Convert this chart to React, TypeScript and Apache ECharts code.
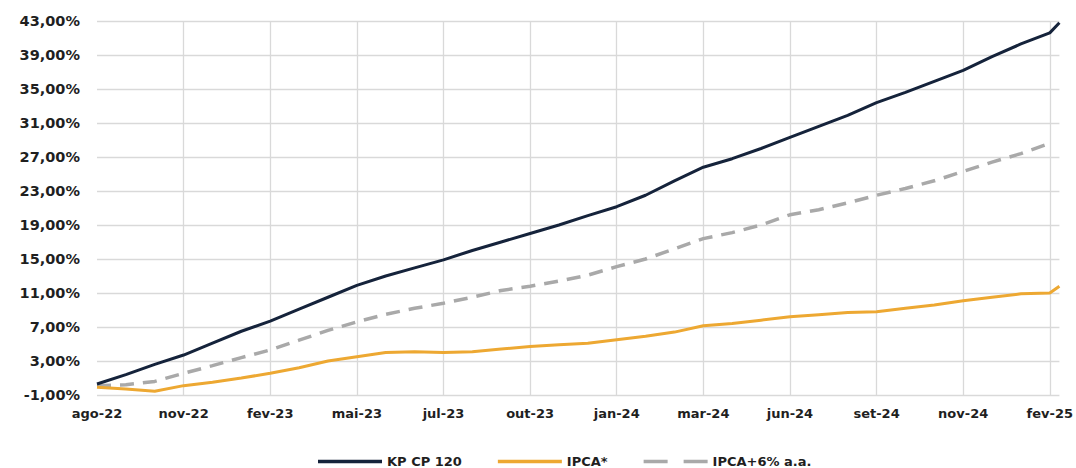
import React, { useEffect, useRef } from 'react';
import * as echarts from 'echarts';

// Axis labels (one every 63 business days)
const tickLabels = ['ago-22', 'nov-22', 'fev-23', 'mai-23', 'jul-23', 'out-23', 'jan-24', 'mar-24', 'jun-24', 'set-24', 'nov-24', 'fev-25'];
const tickStep = 63;
const axisEnd = 700;

// Sample positions (business days since ago-22)
const tradingDays = [0, 21, 42, 63, 84, 105, 126, 147, 168, 189, 210, 231, 252, 273, 294, 315, 336, 357, 378, 399, 420, 441, 462, 483, 504, 525, 546, 567, 588, 609, 630, 651, 672, 693, 700];

// Accumulated returns (%)
const kpCp120 = [0.3, 1.4, 2.6, 3.7, 5.1, 6.5, 7.7, 9.1, 10.5, 11.9, 13.0, 13.95, 14.9, 16.0, 17.0, 18.0, 19.0, 20.1, 21.15, 22.5, 24.2, 25.8, 26.8, 28.0, 29.3, 30.6, 31.9, 33.4, 34.6, 35.9, 37.2, 38.8, 40.3, 41.6, 42.8];
const ipca = [-0.1, -0.3, -0.55, 0.1, 0.5, 1.0, 1.55, 2.2, 3.0, 3.5, 4.0, 4.1, 4.0, 4.1, 4.4, 4.7, 4.9, 5.1, 5.5, 5.9, 6.4, 7.15, 7.4, 7.8, 8.2, 8.45, 8.7, 8.8, 9.2, 9.6, 10.1, 10.5, 10.9, 11.0, 11.8];
const ipcaPlus6 = [0.1, 0.2, 0.6, 1.55, 2.45, 3.4, 4.3, 5.45, 6.6, 7.6, 8.5, 9.2, 9.8, 10.5, 11.3, 11.8, 12.4, 13.1, 14.1, 15.0, 16.2, 17.4, 18.1, 19.0, 20.2, 20.8, 21.6, 22.5, 23.3, 24.2, 25.3, 26.4, 27.4, 28.6, null];

const FONT = 'DejaVu Sans';
const TEXT = '#1f1f1f';
const NAVY = '#15233b';
const ORANGE = '#eda832';
const GRAY = '#a9a9a9';

export default function App() {
  const ref = useRef<HTMLDivElement>(null);

  useEffect(() => {
    const chart = echarts.init(ref.current as HTMLDivElement, null, { renderer: 'svg' });
    const pairs = (vals: (number | null)[]) => tradingDays.map((d, i) => [d, vals[i]]);

    chart.setOption({
      animation: false,
      backgroundColor: '#ffffff',
      grid: { left: 97, right: 11, top: 21, bottom: 73 },
      xAxis: {
        type: 'value',
        min: 0,
        max: axisEnd,
        interval: tickStep,
        axisLine: { show: false },
        axisTick: { show: false },
        splitLine: { show: true, showMinLine: false, showMaxLine: false, lineStyle: { color: '#d9d9d9', width: 1.3 } },
        axisLabel: {
          margin: 12,
          fontFamily: FONT,
          fontWeight: 'bold',
          fontSize: 13,
          color: TEXT,
          formatter: (v: number) => (v % tickStep === 0 ? tickLabels[v / tickStep] ?? '' : ''),
        },
      },
      yAxis: {
        type: 'value',
        min: -1,
        max: 43,
        interval: 4,
        axisLine: { show: false },
        axisTick: { show: false },
        splitLine: { show: true, lineStyle: { color: '#d9d9d9', width: 1.3 } },
        axisLabel: {
          margin: 17,
          fontFamily: FONT,
          fontWeight: 'bold',
          fontSize: 14.5,
          color: TEXT,
          formatter: (v: number) => v.toFixed(2).replace('.', ',') + '%',
        },
      },
      legend: {
        left: 318,
        top: 455,
        padding: 0,
        itemWidth: 64,
        itemHeight: 3.5,
        itemGap: 36,
        textStyle: { fontFamily: FONT, fontWeight: 'bold', fontSize: 13, color: TEXT },
        data: [
          { name: 'KP CP 120', icon: 'rect' },
          { name: 'IPCA*', icon: 'rect' },
          { name: 'IPCA+6% a.a.', icon: 'path://M0 0H24V3.5H0Z M40 0H64V3.5H40Z' },
        ],
      },
      series: [
        {
          name: 'KP CP 120',
          type: 'line',
          data: pairs(kpCp120),
          symbol: 'none',
          showSymbol: false,
          lineStyle: { color: NAVY, width: 3 },
          itemStyle: { color: NAVY },
          z: 3,
        },
        {
          name: 'IPCA*',
          type: 'line',
          data: pairs(ipca),
          symbol: 'none',
          showSymbol: false,
          lineStyle: { color: ORANGE, width: 3 },
          itemStyle: { color: ORANGE },
          z: 2,
        },
        {
          name: 'IPCA+6% a.a.',
          type: 'line',
          data: pairs(ipcaPlus6),
          symbol: 'none',
          showSymbol: false,
          connectNulls: false,
          lineStyle: { color: GRAY, width: 3.5, type: [14, 9] },
          itemStyle: { color: GRAY },
          z: 1,
        },
      ],
    });

    return () => chart.dispose();
  }, []);

  return <div ref={ref} style={{ position: 'fixed', left: 0, top: 0, width: 1076, height: 468 }} />;
}
